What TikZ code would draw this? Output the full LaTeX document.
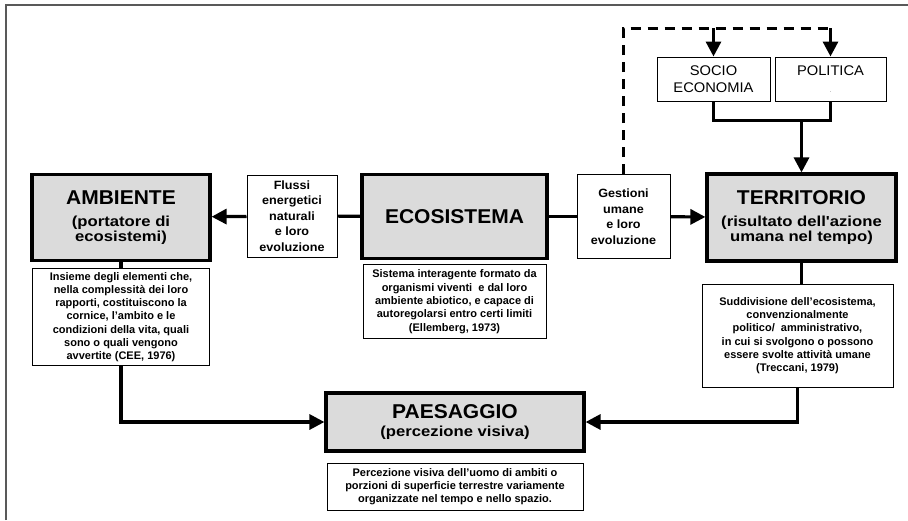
\documentclass[tikz,border=0pt]{standalone}
\usepackage{fontspec}
\setmainfont{Liberation Sans}
\newfontfamily\widefont{Liberation Sans}[FakeStretch=1.15]
\newfontfamily\semiwidefont{Liberation Sans}[FakeStretch=1.05]
\usetikzlibrary{arrows.meta,positioning,calc}
\newcommand{\titletxt}{\semiwidefont\bfseries\fontsize{20}{23}\selectfont}
\newcommand{\subtxt}{\widefont\bfseries\fontsize{14.5}{15.5}\selectfont}
\tikzset{
  mainbox/.style  ={draw,line width=3.2pt,fill=black!14,align=center,inner sep=1pt},
  notebox/.style  ={draw,line width=1pt,fill=white,align=center,inner sep=1pt,
                    font=\semiwidefont\bfseries\fontsize{12}{15.5}\selectfont},
  descbox/.style  ={draw,line width=1pt,fill=white,align=center,inner sep=1pt,
                    font=\bfseries\fontsize{11}{13.3}\selectfont},
  sectbox/.style  ={draw,line width=1pt,fill=white,align=center,inner sep=1pt,
                    font=\semiwidefont\fontsize{14}{16.5}\selectfont},
  link/.style     ={line width=3.2pt},
  arrow/.style    ={line width=3.2pt,-{Triangle[length=15pt,width=15pt]}},
  dashlink/.style ={line width=3pt,dash pattern=on 10pt off 7pt},
  frame/.style    ={line width=2pt,black!65}
}
\begin{document}
\begin{tikzpicture}[x=1pt,y=-1pt]
    \useasboundingbox (0,0) rectangle (908,520);
    \draw[frame] (6,520) -- (6,5) -- (908,5);
    % main row
    \node[mainbox,minimum width=178pt,minimum height=86pt] (amb) at (121,217.5)
      {\titletxt AMBIENTE\\[10pt]\subtxt (portatore di\\\subtxt ecosistemi)};
    \node[notebox,minimum width=90pt,minimum height=82pt]  (fluss) at (292,216) {Flussi\\energetici\\naturali\\e loro\\evoluzione};
    \node[mainbox,minimum width=185pt,minimum height=84pt] (eco) at (454.5,216.5) {\titletxt ECOSISTEMA};
    \node[notebox,minimum width=93pt,minimum height=84pt]  (gest) at (623.5,216.5) {Gestioni\\umane\\e loro\\evoluzione};
    \node[mainbox,minimum width=189pt,minimum height=87pt] (terr) at (801.5,217.5)
      {\titletxt TERRITORIO\\[10pt]\subtxt (risultato dell'azione\\\subtxt umana nel tempo)};
    % top boxes
    \node[sectbox,minimum width=113pt,minimum height=44pt] (socio) at (713.5,79) {SOCIO\\ECONOMIA};
    \node[sectbox,minimum width=111pt,minimum height=44pt,right=4pt of socio] (pol)
      {POLITICA\\{\color{black!30}\fontsize{8}{16.5}\selectfont .}};
    % descriptions
    \node[descbox,minimum width=177pt,minimum height=97pt,below=6pt of amb] (ambd)
      {Insieme degli elementi che,\\nella complessità dei loro\\rapporti, costituiscono la\\cornice, l'ambito e le\\condizioni della vita, quali\\sono o quali vengono\\avvertite (CEE, 1976)};
    \node[descbox,minimum width=183pt,minimum height=74pt,below=4pt of eco] (ecod)
      {Sistema interagente formato da\\organismi viventi \ e dal loro\\ambiente abiotico, e capace di\\autoregolarsi entro certi limiti\\(Ellemberg, 1973)};
    \node[descbox,minimum width=191pt,minimum height=103pt] (terrd) at (797.5,335.5)
      {Suddivisione dell'ecosistema,\\convenzionalmente\\politico/ \ amministrativo,\\in cui si svolgono o possono\\essere svolte attività umane\\(Treccani, 1979)};
    \node[mainbox,minimum width=258pt,minimum height=58pt] (paes) at (455,422)
      {\titletxt PAESAGGIO\\[6pt]\subtxt (percezione visiva)};
    \node[descbox,minimum width=256pt,minimum height=47pt,below=10pt of paes] (paesd)
      {Percezione visiva dell'uomo di ambiti o\\porzioni di superficie terrestre variamente\\organizzate nel tempo e nello spazio.};
    % connectors
    \coordinate (top) at (0,28);
    \coordinate (jn) at ([yshift=-19pt]terr.north |- socio.south);
    \draw[arrow] (fluss) -- (amb);
    \draw[link]  (eco) -- (fluss);
    \draw[link]  (eco) -- (gest);
    \draw[arrow] (gest) -- (terr);
    \draw[link]  (amb) -- (ambd);
    \draw[link]  (terr.south) -- (terr.south |- terrd.north);
    \draw[arrow] (ambd.south) |- (paes.west);
    \draw[arrow] (terrd.south) |- (paes.east);
    \draw[link]  (socio.south) |- (jn) -| (pol.south);
    \draw[arrow] (jn) -- (terr.north |- terr.north);
    \draw[dashlink] (gest.north) |- (pol.north |- top);
    \draw[arrow] (socio.north |- top) -- (socio.north);
    \draw[arrow] (pol.north |- top) -- (pol.north);
  \end{tikzpicture}
\end{document}
